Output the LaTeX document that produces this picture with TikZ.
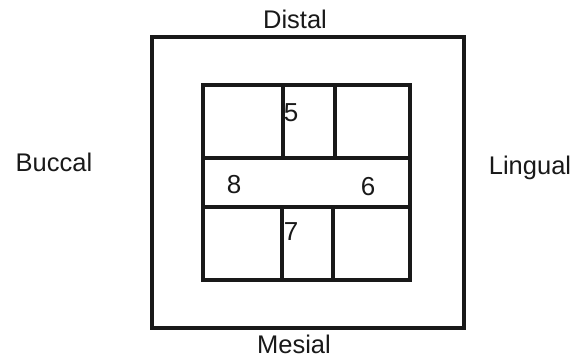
\documentclass[tikz,border=0pt]{standalone}
\usepackage{fontspec}
\setmainfont{Liberation Sans}
\begin{document}
\begin{tikzpicture}[x=1pt,y=-1pt,
  wall/.style={draw=black!90,line width=3.2pt},
  lbl/.style={font=\fontsize{25.5}{28}\selectfont,text=black!90,inner sep=0pt},
  num/.style={font=\fontsize{26}{28}\selectfont,text=black!90,inner sep=0pt}]
\useasboundingbox (0,0) rectangle (588,360);
\fill[white] (0,0) rectangle (588,360);
% outer and inner frames
\draw[wall] (152,37) rectangle (464,328);
\draw[wall] (203,85) rectangle (410,280);
% middle band
\draw[wall] (203,158) -- (410,158);
\draw[wall] (203,207) -- (410,207);
% vertical dividers
\draw[wall] (283,85) -- (283,158);
\draw[wall] (335,85) -- (335,158);
\draw[wall] (282,207) -- (282,280);
\draw[wall] (333,207) -- (333,280);
% labels
\node[lbl] (distal) at (295,19) {Distal};
\node[lbl] (mesial) at (294,344) {Mesial};
\node[lbl] (buccal) at (54,162) {Buccal};
\node[lbl] (lingual) at (530,168) {Lingual};
% numbers
\node[num] (n5) at (291,113) {5};
\node[num] (n8) at (234,185) {8};
\node[num] (n6) at (368,187) {6};
\node[num] (n7) at (291,232) {7};
\end{tikzpicture}
\end{document}
